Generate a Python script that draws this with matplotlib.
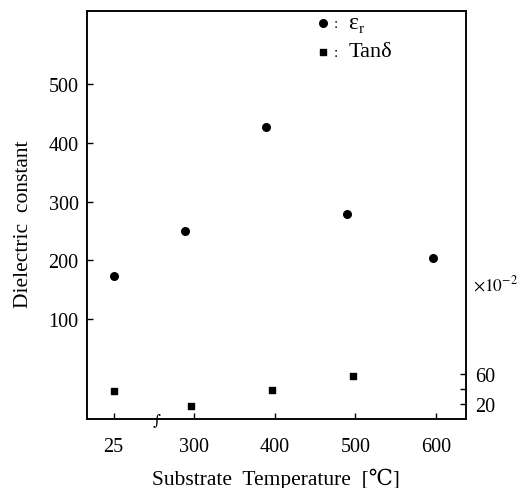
import numpy as np
import matplotlib
matplotlib.use("Agg")
import matplotlib.pyplot as plt

plt.rcParams['font.family'] = ['Liberation Serif', 'DejaVu Serif']
plt.rcParams['mathtext.fontset'] = 'stix'

# Data (x in substrate temperature; 25 °C is drawn on a broken axis at position 200)
temp_er = [25, 289, 389, 489, 596]
eps_r = [173, 250, 427, 279, 204]
temp_tan = [25, 296, 396, 497]
tan_delta = [37, 17, 39, 58]  # x10^-2

xtick_temps = [25, 300, 400, 500, 600]
xtick_labels = ["25", "300", "400", "500", "600"]
left_ticks = [100, 200, 300, 400, 500]
right_ticks = [20, 40, 60]
right_labels = ["20", "", "60"]


def pos(t):
    t = np.asarray(t, dtype=float)
    return np.where(t == 25, 200.0, t)


fig = plt.figure(figsize=(5.24, 4.89), dpi=100)
ax = fig.add_axes([0.166, 0.141, 0.723, 0.834])
ax2 = ax.twinx()

ax.scatter(pos(temp_er), eps_r, marker='o', s=30, color='black', zorder=3)
ax2.scatter(pos(temp_tan), tan_delta, marker='s', s=22, color='black', zorder=3)

ax.set_xlim(167, 637)
ax.set_ylim(-70, 624)
ax2.set_ylim(0, 544)

ax.set_xticks(pos(xtick_temps))
ax.set_xticklabels(xtick_labels)
ax.set_yticks(left_ticks)
ax2.set_yticks(right_ticks)
ax2.set_yticklabels(right_labels)

ax.tick_params(axis='both', direction='in', length=4, width=1, labelsize=14.5, pad=6)
ax.tick_params(axis='x', pad=13)
ax2.tick_params(axis='y', direction='in', length=4, width=1, labelsize=14.5, pad=7)

for a in (ax, ax2):
    for s in a.spines.values():
        s.set_linewidth(1.1)

ax.set_ylabel("Dielectric  constant", fontsize=15.5, va='center')
ax.yaxis.set_label_coords(-0.168, 0.48)
ax.set_xlabel("Substrate  Temperature  [℃]", fontsize=15.5, va='center')
ax.xaxis.set_label_coords(0.5, -0.145)

fig.text(0.902, 0.417, r"$\times10^{-2}$", fontsize=12.5, ha='left', va='center')

# Broken-axis mark on the bottom spine
ax.text(0.185, 0.0, "∫", transform=ax.transAxes, fontsize=11, ha='center', va='center',
        family=['DejaVu Serif'])

# Legend
ax.scatter([0.623], [0.971], transform=ax.transAxes, marker='o', s=30, color='black', clip_on=False)
ax.text(0.652, 0.971, ":", transform=ax.transAxes, fontsize=11, va='center')
ax.text(0.69, 0.973, "ε", transform=ax.transAxes, fontsize=17, va='center')
ax.text(0.718, 0.958, "r", transform=ax.transAxes, fontsize=11, va='center')
ax.scatter([0.623], [0.900], transform=ax.transAxes, marker='s', s=22, color='black', clip_on=False)
ax.text(0.652, 0.900, ":", transform=ax.transAxes, fontsize=11, va='center')
ax.text(0.69, 0.902, "Tanδ", transform=ax.transAxes, fontsize=16, va='center')

fig.savefig("out.png", dpi=100)
